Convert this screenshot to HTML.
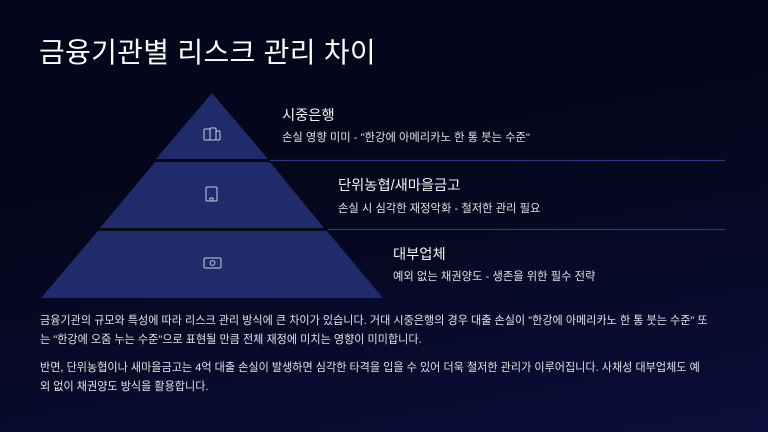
<!DOCTYPE html>
<html><head><meta charset="utf-8"><style>
*{margin:0;padding:0;box-sizing:border-box}
body{width:768px;height:432px;overflow:hidden;font-family:"Liberation Sans","Noto Sans CJK KR",sans-serif;color:#fff;
background:linear-gradient(170deg,#04051a 0%,#05071d 45%,#0b0e3a 100%);position:relative}
.t{position:absolute;white-space:nowrap}
h1{position:absolute;left:39px;top:31px;font-size:28px;font-weight:400;white-space:nowrap;letter-spacing:0.3px}
.h{font-size:14.3px;color:#f2f2f2}
.s{font-size:11.3px;color:#e0e0e0}
.p{font-size:11.1px;color:#e2e2e2;left:40px}
</style></head><body>
<h1>금융기관별 리스크 관리 차이</h1>
<svg width="768" height="432" style="position:absolute;left:0;top:0">
<polygon points="212,93 268,159 156,159" fill="#1f2b6b"/>
<polygon points="155,162 270,162 324,228 100,228" fill="#1f2b6b"/>
<polygon points="98,231 327,231 383,298 41,298" fill="#1f2b6b"/>
<line x1="270" y1="160.5" x2="725" y2="160.5" stroke="#283a85" stroke-width="1.2"/>
<line x1="328" y1="229.5" x2="725" y2="229.5" stroke="#283a85" stroke-width="1.2"/>
<g fill="none" stroke="#c8cbe0" stroke-width="1">
<rect x="204" y="129" width="6" height="11" rx="1"/><rect x="210" y="128" width="6" height="12" rx="1"/><rect x="216" y="131" width="4" height="9" rx="1"/>
<rect x="206" y="187" width="11" height="14" rx="1"/><path d="M210,201 v-3 h3 v3"/>
<rect x="204" y="258" width="17" height="10" rx="1.5"/><circle cx="212.5" cy="263" r="2.4"/>
</g>
</svg>
<div class="t h" style="left:282px;top:104px">시중은행</div>
<div class="t s" style="left:282px;top:129px">손실 영향 미미 - "한강에 아메리카노 한 통 붓는 수준"</div>
<div class="t h" style="left:338px;top:174px">단위농협/새마을금고</div>
<div class="t s" style="left:338px;top:200px">손실 시 심각한 재정악화 - 철저한 관리 필요</div>
<div class="t h" style="left:393px;top:243px">대부업체</div>
<div class="t s" style="left:393px;top:268px">예외 없는 채권양도 - 생존을 위한 필수 전략</div>
<div class="t p" style="top:312px">금융기관의 규모와 특성에 따라 리스크 관리 방식에 큰 차이가 있습니다. 거대 시중은행의 경우 대출 손실이 "한강에 아메리카노 한 통 붓는 수준" 또</div>
<div class="t p" style="top:331px">는 "한강에 오줌 누는 수준"으로 표현될 만큼 전체 재정에 미치는 영향이 미미합니다.</div>
<div class="t p" style="top:359px">반면, 단위농협이나 새마을금고는 4억 대출 손실이 발생하면 심각한 타격을 입을 수 있어 더욱 철저한 관리가 이루어집니다. 사채성 대부업체도 예</div>
<div class="t p" style="top:378px">외 없이 채권양도 방식을 활용합니다.</div>
</body></html>
